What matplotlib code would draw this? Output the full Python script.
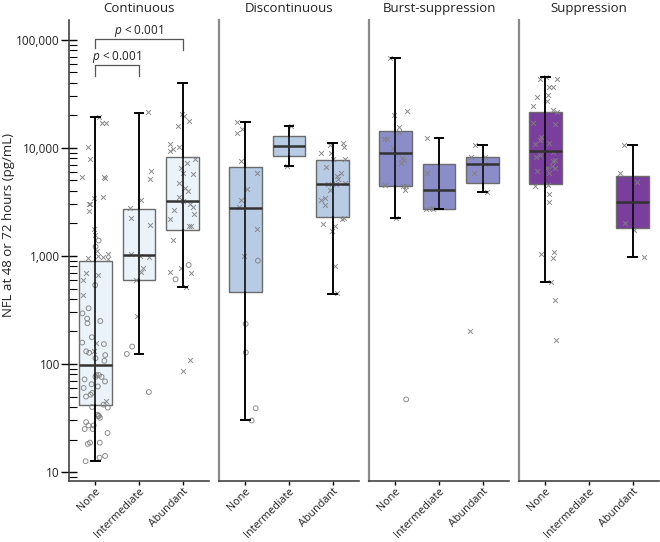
import numpy as np
import matplotlib
matplotlib.use("Agg")
import matplotlib.pyplot as plt
from matplotlib.ticker import FixedLocator, LogLocator, NullFormatter

plt.rcParams['font.family'] = ['Open Sans', 'DejaVu Sans']
plt.rcParams['mathtext.fontset'] = 'custom'
plt.rcParams['mathtext.it'] = 'Open Sans:italic'
plt.rcParams['mathtext.rm'] = 'Open Sans'

groups = ["Continuous", "Discontinuous", "Burst-suppression", "Suppression"]
categories = ["None", "Intermediate", "Abundant"]
box_colors = ["#EAF2FA", "#B8CBE4", "#8B8DC9", "#7A3E9D"]

# box statistics per panel: [None, Intermediate, Abundant]
cont_lo = [12.7, 124, 520]
cont_q1 = [42, 600, 1740]
cont_med = [97, 1015, 3250]
cont_q3 = [900, 2740, 8300]
cont_hi = [19400, 21200, 39700]

disc_lo = [30.3, 6800, 445]
disc_q1 = [461, 8380, 2300]
disc_med = [2800, 10400, 4680]
disc_q3 = [6620, 12900, 7740]
disc_hi = [17400, 16100, 11000]

burst_lo = [2260, 2720, 3940]
burst_q1 = [4480, 2740, 4780]
burst_med = [8940, 4050, 7160]
burst_q3 = [14400, 7110, 8200]
burst_hi = [68100, 12500, 10650]

supp_lo = [574, None, 987]
supp_q1 = [4640, None, 1800]
supp_med = [9300, None, 3160]
supp_q3 = [21700, None, 5510]
supp_hi = [45100, None, 10650]

# individual values: x-marker and circle-marker patients
cont_none_x = [19500, 17100, 16900, 10300, 7860, 5240, 5360, 5360, 3540, 3420, 3050, 3050,
               2610, 1770, 1560, 1120, 1050, 980, 1000, 940, 960, 690, 660, 600, 435, 158, 132, 45]
cont_none_o = [1390, 1220, 537, 328, 294, 263, 250, 238, 177, 158, 153, 131, 127, 121, 113, 107,
               79, 76, 72, 79, 76, 69, 65, 62, 60, 54, 52, 50, 42, 40, 39.5, 34, 33, 33, 31.8,
               29, 27, 27, 25, 25, 23, 18.2, 18.7, 18.7, 14.1, 13.6, 12.6]
cont_int_x = [21400, 6120, 5130, 3300, 2760, 2260, 1920, 1010, 1040, 980, 774, 707, 600, 280]
cont_int_o = [145, 124, 55]
cont_abu_x = [20500, 19900, 16000, 17800, 10900, 10300, 9400, 9730, 7860, 7300, 6460, 5840,
              5740, 4710, 4240, 4030, 3500, 3200, 3000, 2850, 2650, 2450, 2190, 1900, 1900,
              1410, 780, 690, 705, 520, 109, 87]
cont_abu_o = [826, 608]

disc_none_x = [17400, 14900, 13700, 7580, 5880, 4200, 3300, 2820, 1790, 1000]
disc_none_o = [905, 235, 128, 39, 30]
disc_int_x = [16100, 6760]
disc_int_o = []
disc_abu_x = [11000, 10650, 10150, 9030, 8930, 7860, 7860, 6720, 5900, 5500, 5130, 4640,
              4780, 4640, 4090, 3470, 3300, 2950, 2230, 2190, 1970, 1900, 1700, 810, 451]
disc_abu_o = []

burst_none_x = [68100, 22000, 20400, 15600, 14000, 12100, 12100, 9940, 8130, 7740, 7200,
                4570, 4450, 4450, 4090, 2260]
burst_none_o = [47]
burst_int_x = [12500, 5880, 2720, 2720, 2780]
burst_int_o = []
burst_abu_x = [10650, 8200, 8200, 7100, 5900, 3940, 202]
burst_abu_o = []

supp_none_x = [43500, 43200, 45100, 37000, 37000, 31000, 29500, 27200, 24500, 22300, 21400,
               16700, 16900, 12700, 11900, 10800, 11000, 9240, 8600, 7740, 7650, 8300, 6860,
               6490, 6160, 6580, 5900, 4570, 4460, 3750, 3160, 1080, 964, 1045, 574, 392, 166]
supp_none_o = []
supp_int_x = []
supp_int_o = []
supp_abu_x = [10650, 5840, 4860, 2030, 1730, 987]
supp_abu_o = []

stats = [
    (cont_lo, cont_q1, cont_med, cont_q3, cont_hi),
    (disc_lo, disc_q1, disc_med, disc_q3, disc_hi),
    (burst_lo, burst_q1, burst_med, burst_q3, burst_hi),
    (supp_lo, supp_q1, supp_med, supp_q3, supp_hi),
]
points = [
    [(cont_none_x, cont_none_o), (cont_int_x, cont_int_o), (cont_abu_x, cont_abu_o)],
    [(disc_none_x, disc_none_o), (disc_int_x, disc_int_o), (disc_abu_x, disc_abu_o)],
    [(burst_none_x, burst_none_o), (burst_int_x, burst_int_o), (burst_abu_x, burst_abu_o)],
    [(supp_none_x, supp_none_o), (supp_int_x, supp_int_o), (supp_abu_x, supp_abu_o)],
]

W, H = 660, 542
fig = plt.figure(figsize=(W / 100, H / 100), dpi=100)
rng = np.random.default_rng(7)

point_color = "#808080"
ylo, yhi = 8.26, 153000

for i, g in enumerate(groups):
    left = (69 + 150 * i) / W
    ax = fig.add_axes([left, 1 - 481 / H, 140 / W, (481 - 20) / H])
    ax.set_yscale('log')
    ax.set_ylim(ylo, yhi)
    ax.set_xlim(-0.6, 2.6)
    lo, q1, med, q3, hi = stats[i]
    bstats, pos = [], []
    for j in range(3):
        if med[j] is None:
            continue
        bstats.append(dict(whislo=lo[j], q1=q1[j], med=med[j], q3=q3[j], whishi=hi[j], fliers=[]))
        pos.append(j)
    ax.bxp(bstats, positions=pos, widths=0.75, patch_artist=True, showfliers=False,
           capwidths=0.2,
           boxprops=dict(facecolor=box_colors[i], edgecolor="#6b6b6b", linewidth=1.0, zorder=1),
           medianprops=dict(color="#333333", linewidth=1.8, zorder=5),
           whiskerprops=dict(color="black", linewidth=1.1, zorder=4),
           capprops=dict(color="black", linewidth=1.4, zorder=4), manage_ticks=False)
    for j in pos:
        ax.vlines(j, lo[j], hi[j], color="black", linewidth=1.1, zorder=4)
    for j in range(3):
        xv, ov = points[i][j]
        if len(xv):
            jx = j + rng.uniform(-0.3, 0.3, len(xv))
            ax.scatter(jx, xv, marker='x', s=12, color=point_color, linewidths=0.7, zorder=3, alpha=0.9)
        if len(ov):
            jo = j + rng.uniform(-0.3, 0.3, len(ov))
            ax.scatter(jo, ov, marker='o', s=12, facecolors='none', edgecolors=point_color,
                       linewidths=0.7, zorder=3, alpha=0.9)

    ax.set_xticks(range(3))
    ax.set_xticklabels(categories, rotation=45, ha='right', rotation_mode='anchor', fontsize=7.8,
                       color="#222222")
    ax.tick_params(axis='x', length=3, width=1, direction='out', pad=0.5)
    for s in ['top', 'right']:
        ax.spines[s].set_visible(False)
    ax.spines['bottom'].set_color("#444444")
    ax.spines['bottom'].set_linewidth(1.2)
    ax.set_title(g, fontsize=9.5, pad=6, color="#222222")
    if i == 0:
        ax.spines['left'].set_color("#333333")
        ax.spines['left'].set_linewidth(1.1)
        ax.yaxis.set_major_locator(FixedLocator([10, 100, 1000, 10000, 100000]))
        ax.set_yticklabels(["10", "100", "1,000", "10,000", "100,000"], fontsize=8.5, color="#222222")
        ax.yaxis.set_minor_locator(LogLocator(base=10, subs=np.arange(2, 10)))
        ax.yaxis.set_minor_formatter(NullFormatter())
        ax.tick_params(axis='y', which='major', direction='inout', length=11, width=1.0, pad=1)
        ax.tick_params(axis='y', which='minor', direction='in', length=6, width=0.8)
        # significance brackets
        def bracket(x1, x2, ytop, ybot1, ybot2, ytxt):
            ax.plot([x1, x1, x2, x2], [ybot1, ytop, ytop, ybot2], color="#555555", linewidth=0.9,
                    zorder=6, clip_on=False)
            ax.text((x1 + x2) / 2, ytxt, r"$p$ < 0.001", ha='center', va='center', fontsize=8.5,
                    color="#222222")
        bracket(0, 2, 10 ** 5.006, 10 ** 4.93, 10 ** 4.907, 10 ** 5.085)
        bracket(0, 1, 10 ** 4.769, 10 ** 4.667, 10 ** 4.667, 10 ** 4.845)
    else:
        ax.spines['left'].set_color("#8a8a8a")
        ax.spines['left'].set_linewidth(1.6)
        ax.set_yticks([])
        ax.yaxis.set_minor_locator(plt.NullLocator())

fig.text(9 / W, 1 - 225 / H, "NFL at 48 or 72 hours (pg/mL)", rotation=90, ha='center',
         va='center', fontsize=9.5, color="#222222")

fig.savefig("out.png", dpi=100)
